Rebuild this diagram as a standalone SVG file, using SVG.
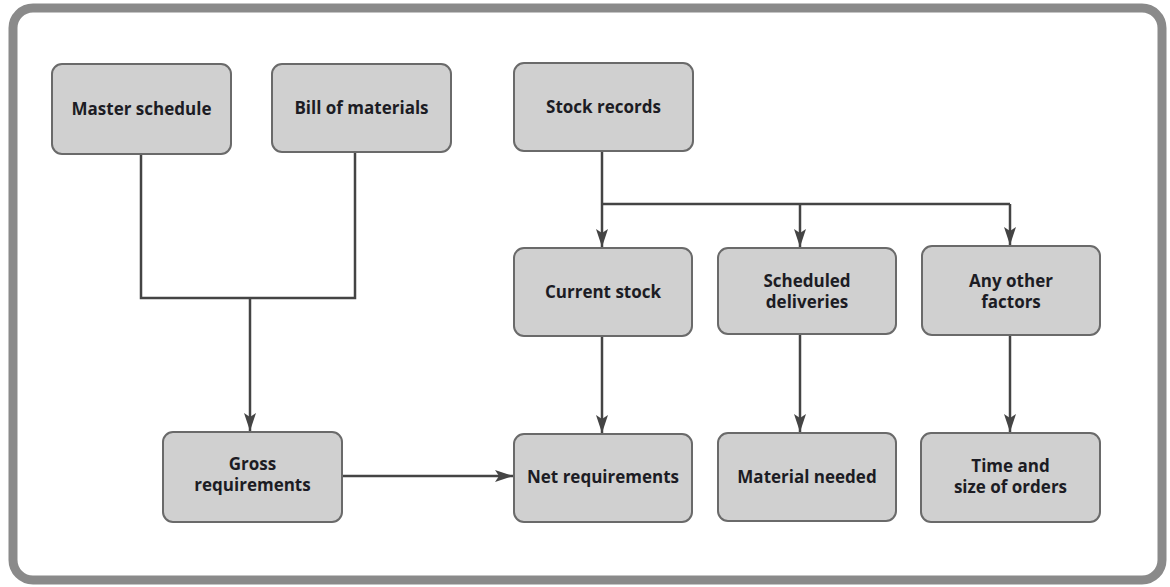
<svg xmlns="http://www.w3.org/2000/svg" width="1170" height="587" viewBox="0 0 1170 587">
  <style>
    .frame { fill: #ffffff; stroke: #8a8a8a; stroke-width: 9; }
    .box { fill: #d0d0d0; stroke: #6a6a6a; stroke-width: 2; }
    .label { font-family: "Open Sans", "Liberation Sans", sans-serif; font-weight: 700; font-size: 17px; fill: #1c1c24; text-anchor: middle; }
    .wire { fill: none; stroke: #444444; stroke-width: 2.5; }
  </style>
  <defs>
    <marker id="arrow" viewBox="0 0 18 12" refX="18" refY="6" markerWidth="18" markerHeight="12" markerUnits="userSpaceOnUse" orient="auto">
      <path d="M0,0 L18,6 L0,12 L4,6 Z" fill="#444444"/>
    </marker>
  </defs>

  <rect class="frame" x="13" y="8" width="1149" height="572" rx="20"/>

  <g id="connectors">
    <path class="wire" d="M141,154 V298 H355 V152"/>
    <path class="wire" d="M250,298 V431" marker-end="url(#arrow)"/>
    <path class="wire" d="M602,151 V247" marker-end="url(#arrow)"/>
    <path class="wire" d="M602,204 H1010"/>
    <path class="wire" d="M800,204 V247" marker-end="url(#arrow)"/>
    <path class="wire" d="M1010,204 V245" marker-end="url(#arrow)"/>
    <path class="wire" d="M602,336 V433" marker-end="url(#arrow)"/>
    <path class="wire" d="M800,334 V432" marker-end="url(#arrow)"/>
    <path class="wire" d="M1010,335 V432" marker-end="url(#arrow)"/>
    <path class="wire" d="M342,476 H513" marker-end="url(#arrow)"/>
  </g>

  <g id="master-schedule">
    <rect class="box" x="52" y="64" width="179" height="90" rx="10"/>
    <text class="label" x="141.5" y="115">Master schedule</text>
  </g>
  <g id="bill-of-materials">
    <rect class="box" x="272" y="64" width="179" height="88" rx="10"/>
    <text class="label" x="361.5" y="114">Bill of materials</text>
  </g>
  <g id="stock-records">
    <rect class="box" x="514" y="63" width="179" height="88" rx="10"/>
    <text class="label" x="603.5" y="113">Stock records</text>
  </g>
  <g id="current-stock">
    <rect class="box" x="514" y="248" width="178" height="88" rx="10"/>
    <text class="label" x="603" y="298">Current stock</text>
  </g>
  <g id="scheduled-deliveries">
    <rect class="box" x="718" y="248" width="178" height="86" rx="10"/>
    <text class="label" x="807" y="287">Scheduled</text>
    <text class="label" x="807" y="308">deliveries</text>
  </g>
  <g id="any-other-factors">
    <rect class="box" x="922" y="246" width="178" height="89" rx="10"/>
    <text class="label" x="1011" y="287">Any other</text>
    <text class="label" x="1011" y="308">factors</text>
  </g>
  <g id="gross-requirements">
    <rect class="box" x="163" y="432" width="179" height="90" rx="10"/>
    <text class="label" x="252.5" y="470">Gross</text>
    <text class="label" x="252.5" y="491">requirements</text>
  </g>
  <g id="net-requirements">
    <rect class="box" x="514" y="434" width="178" height="88" rx="10"/>
    <text class="label" x="603" y="483">Net requirements</text>
  </g>
  <g id="material-needed">
    <rect class="box" x="718" y="433" width="178" height="88" rx="10"/>
    <text class="label" x="807" y="483">Material needed</text>
  </g>
  <g id="time-and-size-of-orders">
    <rect class="box" x="921" y="433" width="179" height="89" rx="10"/>
    <text class="label" x="1010.5" y="472">Time and</text>
    <text class="label" x="1010.5" y="493">size of orders</text>
  </g>
</svg>
